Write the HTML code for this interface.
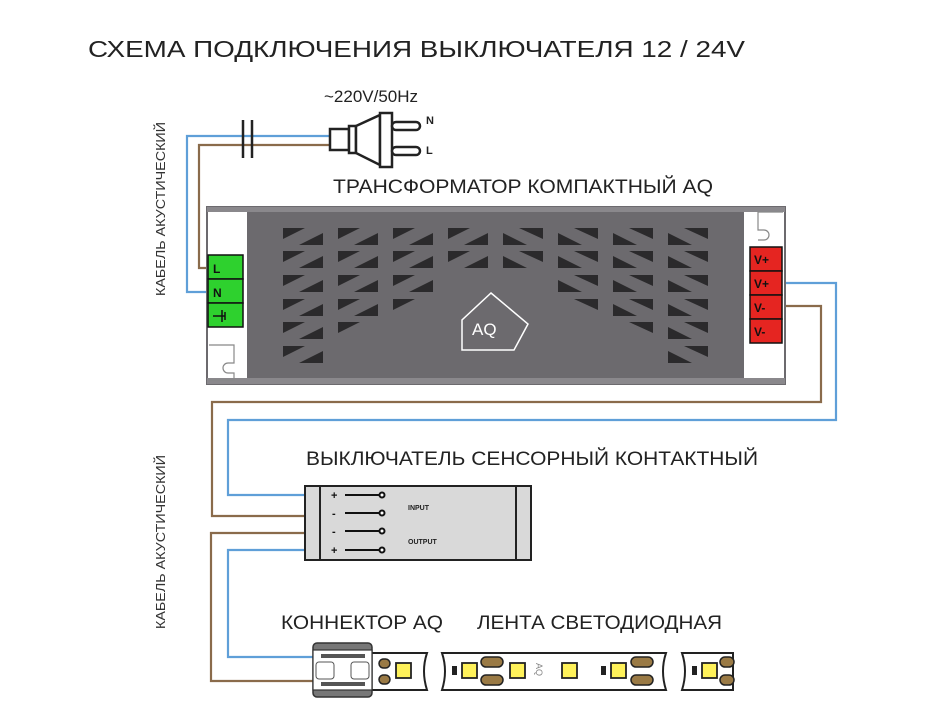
<!DOCTYPE html>
<html><head><meta charset="utf-8"><style>
html,body{margin:0;padding:0;background:#fff;}
svg{display:block;font-family:"Liberation Sans",sans-serif;}
</style></head><body>
<svg width="944" height="703" viewBox="0 0 944 703" xmlns="http://www.w3.org/2000/svg">
<defs>
<g id="cl"><polygon points="0,0 22,0 0,11" fill="#2b2a2c"/><polygon points="40,5 40,17 16,17" fill="#2b2a2c"/></g>
<g id="cr"><polygon points="0,0 24,0 0,0" fill="#2b2a2c"/><polygon points="0,5 0,17 24,17" fill="#2b2a2c"/><polygon points="16,0 40,0 40,11" fill="#2b2a2c"/></g>
<g id="ll"><polygon points="0,0 22,0 0,11" fill="#2b2a2c"/></g>
<g id="rr"><polygon points="40,5 40,17 16,17" fill="#2b2a2c"/></g>
<g id="ml"><polygon points="0,5 0,17 24,17" fill="#2b2a2c"/></g>
<g id="mr"><polygon points="16,0 40,0 40,11" fill="#2b2a2c"/></g>
</defs>
<text x="88" y="57" font-size="23" fill="#222" textLength="657" lengthAdjust="spacingAndGlyphs">СХЕМА ПОДКЛЮЧЕНИЯ ВЫКЛЮЧАТЕЛЯ 12 / 24V</text>
<text x="324" y="102" font-size="17" fill="#222">~220V/50Hz</text>
<text transform="translate(165,296) rotate(-90)" font-size="12.5" fill="#333" textLength="174" lengthAdjust="spacingAndGlyphs">КАБЕЛЬ АКУСТИЧЕСКИЙ</text>
<text transform="translate(165,629) rotate(-90)" font-size="12.5" fill="#333" textLength="174" lengthAdjust="spacingAndGlyphs">КАБЕЛЬ АКУСТИЧЕСКИЙ</text>

<!-- wires -->
<g fill="none" stroke-width="2.2">
<polyline points="330,136 187,136 187,292 208,292" stroke="#5f9fd8"/>
<polyline points="330,145 199,145 199,268 208,268" stroke="#8a6b4b"/>
<polyline points="782,283 836,283 836,420 228,420 228,495 305,495" stroke="#5f9fd8"/>
<polyline points="782,306 821,306 821,402 212,402 212,516 305,516" stroke="#8a6b4b"/>
<polyline points="305,533 211,533 211,681 316,681" stroke="#8a6b4b"/>
<polyline points="305,550 228,550 228,657 316,657" stroke="#5f9fd8"/>
</g>
<!-- capacitor-ish marks -->
<g stroke="#222" stroke-width="2.5"><line x1="243" y1="120" x2="243" y2="158"/><line x1="252" y1="120" x2="252" y2="158"/></g>
<!-- plug -->
<g stroke="#222" stroke-width="2.5" fill="#fff">
<rect x="330" y="129" width="19" height="21"/>
<rect x="349" y="126" width="7" height="27"/>
<polygon points="356,126 380,115 380,165 356,153"/>
<rect x="380" y="113" width="12" height="54"/>
<rect x="392" y="122" width="28" height="8" rx="4"/>
<rect x="392" y="147" width="28" height="8" rx="4"/>
</g>
<text x="426" y="124" font-size="11" font-weight="bold" fill="#222">N</text>
<text x="426" y="154" font-size="11" font-weight="bold" fill="#222">L</text>

<text x="333" y="193" font-size="19" fill="#222" textLength="380" lengthAdjust="spacingAndGlyphs">ТРАНСФОРМАТОР КОМПАКТНЫЙ AQ</text>
<!-- transformer -->
<rect x="207" y="207" width="578" height="177" fill="#fff" stroke="#6c6a6e" stroke-width="2"/>
<rect x="247" y="211" width="497" height="169" fill="#6c6a6e"/>
<rect x="207" y="378" width="578" height="6" fill="#8a888c"/>
<rect x="207" y="207" width="578" height="5" fill="#8a888c"/>
<path d="M209,345 h25 v18 h-6 a5,5 0 0 0 0,10 h6 v7 h-25" fill="none" stroke="#888" stroke-width="1.2"/>
<path d="M783,212 h-25 v18 h6 a5,5 0 0 1 0,10 h-6 v0" fill="none" stroke="#888" stroke-width="1.2"/>
<!-- vents left -->
<g>
<use href="#cl" x="283" y="228"/><use href="#cl" x="283" y="251"/><use href="#cl" x="283" y="275"/><use href="#cl" x="283" y="299"/><use href="#cl" x="283" y="322"/><use href="#cl" x="283" y="346"/>
<use href="#cl" x="338" y="228"/><use href="#cl" x="338" y="251"/><use href="#cl" x="338" y="275"/><use href="#cl" x="338" y="299"/><use href="#ll" x="338" y="322"/>
<use href="#cl" x="393" y="228"/><use href="#cl" x="393" y="251"/><use href="#cl" x="393" y="275"/><use href="#ll" x="393" y="299"/>
<use href="#cl" x="448" y="228"/><use href="#cl" x="448" y="251"/>
<use href="#cr" x="503" y="228"/><use href="#cr" x="503" y="251"/>
<use href="#cr" x="558" y="228"/><use href="#cr" x="558" y="251"/><use href="#cr" x="558" y="275"/><use href="#mr" x="558" y="299"/>
<use href="#cr" x="613" y="228"/><use href="#cr" x="613" y="251"/><use href="#cr" x="613" y="275"/><use href="#cr" x="613" y="299"/><use href="#mr" x="613" y="322"/>
<use href="#cr" x="668" y="228"/><use href="#cr" x="668" y="251"/><use href="#cr" x="668" y="275"/><use href="#cr" x="668" y="299"/><use href="#cr" x="668" y="322"/><use href="#cr" x="668" y="346"/>
</g>
<!-- logo -->
<polygon points="491,293 528,324 514,350 462,350 462,320" fill="none" stroke="#fff" stroke-width="1.5"/>
<text x="472" y="335" font-size="17" fill="#fff" font-weight="300">AQ</text>
<!-- green terminals -->
<g stroke="#111" stroke-width="1.5" fill="#2ed12e">
<rect x="208" y="255" width="35" height="24"/><rect x="208" y="279" width="35" height="24"/><rect x="208" y="303" width="35" height="24"/>
</g>
<text x="213" y="273" font-size="12" font-weight="bold" fill="#111">L</text>
<text x="213" y="297" font-size="12" font-weight="bold" fill="#111">N</text>
<g stroke="#111" stroke-width="1.5"><line x1="213" y1="316" x2="225" y2="316"/><line x1="222" y1="310" x2="222" y2="322"/><line x1="225" y1="312" x2="225" y2="320"/></g>
<!-- red terminals -->
<g stroke="#111" stroke-width="1.5" fill="#e52521">
<rect x="750" y="247" width="32" height="24"/><rect x="750" y="271" width="32" height="24"/><rect x="750" y="295" width="32" height="24"/><rect x="750" y="319" width="32" height="24"/>
</g>
<g font-size="12" font-weight="bold" fill="#111">
<text x="754" y="264">V+</text><text x="754" y="288">V+</text><text x="754" y="312">V-</text><text x="754" y="336">V-</text>
</g>

<text x="306" y="465" font-size="19" fill="#222" textLength="452" lengthAdjust="spacingAndGlyphs">ВЫКЛЮЧАТЕЛЬ СЕНСОРНЫЙ КОНТАКТНЫЙ</text>
<!-- switch -->
<rect x="305" y="486" width="226" height="74" fill="#d9d9d9" stroke="#222" stroke-width="2"/>
<line x1="320" y1="486" x2="320" y2="560" stroke="#222" stroke-width="2"/>
<line x1="516" y1="486" x2="516" y2="560" stroke="#222" stroke-width="2"/>
<g stroke="#111" stroke-width="2" fill="#fff">
<line x1="345" y1="495" x2="380" y2="495"/><circle cx="382" cy="495" r="2.5"/>
<line x1="345" y1="513" x2="380" y2="513"/><circle cx="382" cy="513" r="2.5"/>
<line x1="345" y1="531" x2="380" y2="531"/><circle cx="382" cy="531" r="2.5"/>
<line x1="345" y1="550" x2="380" y2="550"/><circle cx="382" cy="550" r="2.5"/>
</g>
<g font-size="11" font-weight="bold" fill="#111"><text x="331" y="499">+</text><text x="332" y="517">-</text><text x="332" y="535">-</text><text x="331" y="554">+</text></g>
<text x="408" y="510" font-size="7" font-weight="bold" fill="#222">INPUT</text>
<text x="408" y="544" font-size="7" font-weight="bold" fill="#222">OUTPUT</text>

<text x="281" y="629" font-size="19" fill="#222" textLength="162" lengthAdjust="spacingAndGlyphs">КОННЕКТОР AQ</text>
<text x="477" y="629" font-size="19" fill="#222" textLength="245" lengthAdjust="spacingAndGlyphs">ЛЕНТА СВЕТОДИОДНАЯ</text>
<!-- strip segments -->
<g fill="#fff" stroke="#222" stroke-width="2">
<path d="M370,653 H427 Q421,671 427,690 H370 Z"/>
<path d="M442,653 H666 Q660,671 666,690 H442 Q448,671 442,653 Z"/>
<path d="M682,653 H733 V690 H682 Q688,671 682,653 Z"/>
</g>
<g fill="#fff25a" stroke="#222" stroke-width="1.8">
<rect x="396" y="663" width="15" height="15"/>
<rect x="462" y="663" width="15" height="15"/><rect x="510" y="663" width="15" height="15"/><rect x="562" y="663" width="15" height="15"/><rect x="611" y="663" width="15" height="15"/>
<rect x="702" y="663" width="15" height="15"/>
</g>
<g fill="#222"><rect x="452" y="666" width="5" height="9"/><rect x="601" y="666" width="5" height="9"/><rect x="692" y="666" width="5" height="9"/></g>
<g fill="#9a7a45" stroke="#222" stroke-width="1.5">
<rect x="481" y="657" width="22" height="10" rx="5"/><rect x="481" y="675" width="22" height="10" rx="5"/>
<rect x="631" y="657" width="22" height="10" rx="5"/><rect x="631" y="675" width="22" height="10" rx="5"/>
<rect x="720" y="657" width="14" height="10" rx="5"/><rect x="720" y="675" width="14" height="10" rx="5"/>
<rect x="379" y="659" width="11" height="9" rx="4.5"/><rect x="379" y="675" width="11" height="9" rx="4.5"/>
</g>
<text transform="translate(536,663) rotate(90)" font-size="9" fill="#888">AQ</text>
<!-- connector -->
<rect x="313" y="643" width="59" height="54" rx="4" fill="#777" stroke="#333" stroke-width="1.5"/>
<rect x="313" y="650" width="59" height="40" fill="#fff" stroke="#333" stroke-width="1.2"/>
<g fill="#555"><rect x="321" y="654" width="44" height="4"/><rect x="321" y="682" width="44" height="4"/></g>
<g fill="#fff" stroke="#555" stroke-width="1"><rect x="316" y="662" width="18" height="17" rx="3"/><rect x="351" y="662" width="18" height="17" rx="3"/></g>
</svg>
</body></html>
